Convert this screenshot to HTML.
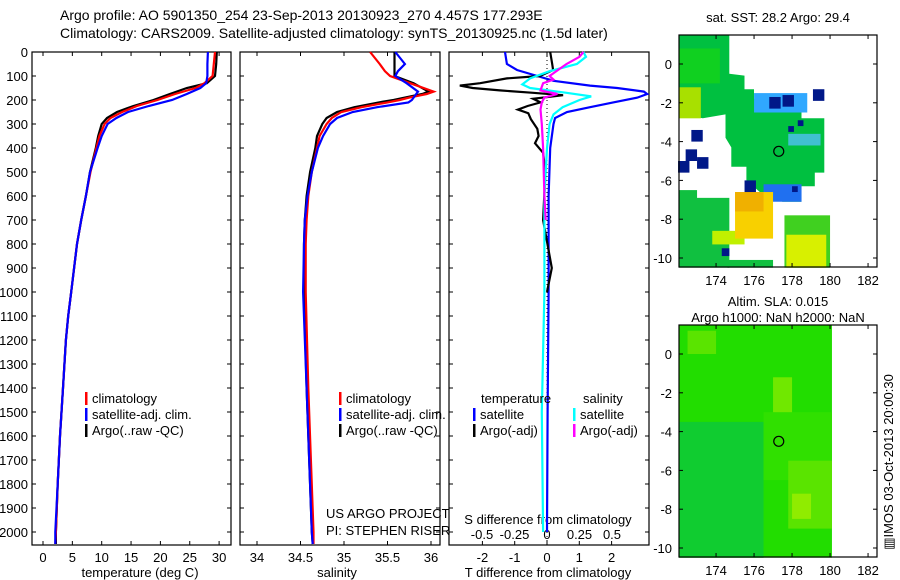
<!DOCTYPE html>
<html><head><meta charset="utf-8"><style>
body{margin:0;background:#fff;}
svg{display:block;font-family:"Liberation Sans",sans-serif;}
text{font-size:13px;fill:#000;}
</style></head><body>
<svg id="c" width="900" height="580" viewBox="0 0 900 580">
<text x="60" y="20" style="font-size:14px">Argo profile: AO 5901350_254 23-Sep-2013 20130923_270 4.457S 177.293E</text>
<text x="60" y="38" style="font-size:14px">Climatology: CARS2009. Satellite-adjusted climatology: synTS_20130925.nc (1.5d later)</text>
</svg>
<script>
// ---- data ----
const tDepth=[0,50,100,130,150,175,200,225,250,275,300,350,400,500,600,700,800,900,1000,1100,1200,1400,1600,1800,2000,2050];
const tArgo=[29.6,29.5,29.3,27.9,24.5,21.6,18.8,15.4,12.6,10.9,10.0,9.4,9.0,8.0,7.3,6.5,5.8,5.3,4.8,4.3,3.9,3.4,2.9,2.5,2.2,2.2];
const tClim=[29.3,29.1,28.9,27.5,26.0,22.5,19.5,16.0,13.5,11.5,10.5,9.6,9.1,8.1,7.3,6.5,5.8,5.3,4.8,4.3,3.9,3.4,2.9,2.5,2.2,2.1];
const tSat=[28.1,28.0,28.0,27.8,26.8,24.5,22.0,18.0,14.5,12.5,11.0,10.0,9.3,8.0,7.3,6.5,5.8,5.3,4.8,4.3,3.9,3.4,2.9,2.5,2.1,2.1];
const sDepth=[0,50,80,100,130,165,175,190,200,210,230,250,275,300,350,400,500,600,700,800,1000,1400,1700,2000,2050];
const sArgo=[35.58,35.58,35.58,35.58,35.8,35.97,35.9,35.7,35.57,35.4,35.12,34.92,34.8,34.75,34.69,34.67,34.61,34.57,34.55,34.54,34.54,34.57,34.6,34.63,34.64];
const sClim=[35.3,35.41,35.47,35.53,35.76,36.03,35.95,35.75,35.64,35.5,35.2,34.97,34.86,34.8,34.72,34.69,34.63,34.59,34.57,34.56,34.56,34.59,34.62,34.65,34.65];
const sSat=[35.59,35.7,35.62,35.59,35.72,35.85,35.83,35.8,35.78,35.74,35.38,35.1,34.92,34.84,34.76,34.7,34.63,34.58,34.55,34.54,34.53,34.57,34.6,34.63,34.64];
const dtDepth=[0,50,75,100,120,140,150,165,175,190,210,230,250,275,300,400,600,1000,1500,2000];
const dtSat=[-1.3,-1.24,-0.93,-0.3,0.2,1.33,2.17,3.0,3.1,2.8,2.05,1.33,0.62,0.25,0.2,0.1,0.05,0.05,0.02,0.0];
const dtaDepth=[0,50,75,100,110,130,140,150,160,170,180,195,210,225,240,255,280,320,350,380,420,500,700,900,1000];
const dtArgo=[0.1,0.16,0.19,-0.22,-1.24,-2.07,-2.7,-2.3,-1.46,-0.43,0.5,-0.43,-0.2,-0.6,-0.9,-0.58,-0.5,-0.3,-0.26,-0.37,-0.12,-0.05,-0.12,0.15,0.0];
const dsDepth=[0,20,50,80,110,135,150,170,185,200,230,260,300,400,600,1000,1500,2000];
const dsSat=[0.28,0.3,0.23,0.02,-0.13,-0.19,-0.13,0.15,0.34,0.25,0.12,0.05,0.02,0.0,-0.02,-0.02,-0.04,-0.03];
const dsaDepth=[0,20,50,75,100,115,130,160,175,190,210,240,300,400,600,700];
const dsArgo=[0.28,0.25,0.15,0.085,0.02,0.05,-0.03,-0.05,0.08,-0.02,-0.04,-0.05,-0.04,-0.03,-0.02,-0.01];
const depthTicks=[0,100,200,300,400,500,600,700,800,900,1000,1100,1200,1300,1400,1500,1600,1700,1800,1900,2000];
const tTicks=[0,5,10,15,20,25,30];
const sTicks=[34,34.5,35,35.5,36];
const dtTicks=[-2,-1,0,1,2];
const dsTicks=[-0.5,-0.25,0,0.25,0.5];
const dsTickLabels=["-0.5","-0.25","0","0.25","0.5"];
const lonTicks=[174,176,178,180,182];
const latTicks=[0,-2,-4,-6,-8,-10];

const NS="http://www.w3.org/2000/svg";
const svg=document.getElementById('c');
function el(tag,attrs,parent){const e=document.createElementNS(NS,tag);for(const k in attrs)e.setAttribute(k,attrs[k]);(parent||svg).appendChild(e);return e;}
function txt(x,y,s,anchor,parent,size){const t=el('text',{x:x,y:y,'text-anchor':anchor||'start'},parent);if(size)t.style.fontSize=size+'px';t.textContent=s;return t;}
const Y=d=>52+d*0.24;
const PB=545;
const xT=v=>43+v*5.87;
const xS=v=>257+(v-34)*87;
const xDT=v=>547+v*32.3;
const xDS=v=>547+v*130;

function panel(x0,x1,name){
  const g=el('g',{});
  
  
  el('rect',{x:x0,y:52,width:x1-x0,height:PB-52,fill:'#fff',stroke:'#000','stroke-width':1.2},g);
  depthTicks.forEach(d=>{el('line',{x1:x0,x2:x0+4,y1:Y(d),y2:Y(d),stroke:'#000'},g);el('line',{x1:x1-4,x2:x1,y1:Y(d),y2:Y(d),stroke:'#000'},g);});
  return g;
}
function line(g,xs,ds,fx,color,name){
  const p=el('polyline',{points:xs.map((v,i)=>fx(v).toFixed(1)+','+Y(ds[i]).toFixed(1)).join(' '),fill:'none',stroke:color,'stroke-width':2.2},g);
  
  
}
const ya=el('g',{});


depthTicks.forEach(d=>txt(28,Y(d)+5,String(d),'end',ya));

const g1=panel(32,231,'temperature-panel');
tTicks.forEach(v=>{el('line',{x1:xT(v),x2:xT(v),y1:PB,y2:PB-4,stroke:'#000'},g1);el('line',{x1:xT(v),x2:xT(v),y1:52,y2:56,stroke:'#000'},g1);txt(xT(v),562,String(v),'middle',g1);});
txt(140,577,'temperature (deg C)','middle',g1);
line(g1,tArgo,tDepth,xT,'#000','temp-argo-line');
line(g1,tClim,tDepth,xT,'#f00','temp-climatology-line');
line(g1,tSat,tDepth,xT,'#00f','temp-satellite-line');

const g2=panel(240,440,'salinity-panel');
sTicks.forEach(v=>{el('line',{x1:xS(v),x2:xS(v),y1:PB,y2:PB-4,stroke:'#000'},g2);el('line',{x1:xS(v),x2:xS(v),y1:52,y2:56,stroke:'#000'},g2);txt(xS(v),562,String(v),'middle',g2);});
txt(337,577,'salinity','middle',g2);
line(g2,sArgo,sDepth,xS,'#000','sal-argo-line');
line(g2,sClim,sDepth,xS,'#f00','sal-climatology-line');
line(g2,sSat,sDepth,xS,'#00f','sal-satellite-line');
txt(326,518,'US ARGO PROJECT','start',g2);
txt(326,535,'PI: STEPHEN RISER','start',g2);

const g3=panel(449,649,'difference-panel');
el('line',{x1:547,x2:547,y1:52,y2:PB,stroke:'#000','stroke-dasharray':'1,3'},g3);
dtTicks.forEach(v=>{el('line',{x1:xDT(v),x2:xDT(v),y1:PB,y2:PB-4,stroke:'#000'},g3);el('line',{x1:xDT(v),x2:xDT(v),y1:52,y2:56,stroke:'#000'},g3);txt(xDT(v),562,String(v),'middle',g3);});
dsTicks.forEach((v,i)=>txt(xDS(v),539,dsTickLabels[i],'middle',g3));
txt(548,524,'S difference from climatology','middle',g3);
txt(548,577,'T difference from climatology','middle',g3);
line(g3,dtSat,dtDepth,xDT,'#00f','tdiff-satellite-line');
line(g3,dtArgo,dtaDepth,xDT,'#000','tdiff-argo-line');
line(g3,dsSat,dsDepth,xDS,'#0ff','sdiff-satellite-line');
line(g3,dsArgo,dsaDepth,xDS,'#f0f','sdiff-argo-line');

function legend(x,y,label,color,name,parent){
  const g=el('g',{},parent);
  
  
  el('rect',{x:x,y:y-11,width:2.5,height:13,fill:color},g);
  txt(x+7,y,label,'start',g);
}
[[g1,85],[g2,339]].forEach(([g,x])=>{
  legend(x,403,'climatology','#f00','legend-climatology',g);
  legend(x,419,'satellite-adj. clim.','#00f','legend-satellite',g);
  legend(x,435,'Argo(..raw -QC)','#000','legend-argo',g);
});
txt(481,403,'temperature','start',g3);
txt(583,403,'salinity','start',g3);
legend(473,419,'satellite','#00f','legend-t-satellite',g3);
legend(473,435,'Argo(-adj)','#000','legend-t-argo',g3);
legend(573,419,'satellite','#0ff','legend-s-satellite',g3);
legend(573,435,'Argo(-adj)','#f0f','legend-s-argo',g3);

const MX=lon=>679+19*(lon-172.05);
function map(top,name){
  const MY=lat=>top+29-19.4*lat;
  const g=el('g',{});
  
  
  return {g,MY};
}
function poly(g,pts,fill,MY){el('polygon',{points:pts.map(p=>MX(p[0]).toFixed(1)+','+MY(p[1]).toFixed(1)).join(' '),fill:fill},g);}
function box(g,l0,l1,a0,a1,fill,MY){el('rect',{x:MX(l0),y:MY(a0),width:MX(l1)-MX(l0),height:MY(a1)-MY(a0),fill:fill},g);}
function frame(g,top,MY){
  el('rect',{x:679,y:top,width:198,height:232,fill:'none',stroke:'#000','stroke-width':1.2},g);
  lonTicks.forEach(v=>{el('line',{x1:MX(v),x2:MX(v),y1:top,y2:top+4,stroke:'#000'},g);el('line',{x1:MX(v),x2:MX(v),y1:top+232,y2:top+228,stroke:'#000'},g);txt(MX(v),top+250,String(v),'middle',g);});
  latTicks.forEach(v=>{el('line',{x1:679,x2:683,y1:MY(v),y2:MY(v),stroke:'#000'},g);el('line',{x1:873,x2:877,y1:MY(v),y2:MY(v),stroke:'#000'},g);txt(672,MY(v)+5,String(v),'end',g);});
  el('circle',{cx:MX(177.3),cy:MY(-4.5),r:5,fill:'none',stroke:'#000','stroke-width':1.2},g);
}
const m1=map(35,'sst-map');
const g4=m1.g,MY1=m1.MY;
poly(g4,[[172.05,1.5],[174.7,1.5],[174.7,-0.5],[175.5,-0.6],[175.5,-1.3],[176,-1.3],[176,-1.8],[178.5,-1.8],[178.5,-2.8],[179.7,-2.8],[179.7,-5.6],[179.2,-5.6],[179.2,-6.3],[178.5,-6.3],[178.5,-7.1],[177.5,-7.1],[176.3,-6.6],[175.6,-6],[175.6,-5.3],[174.8,-5.3],[174.8,-4.3],[174.5,-3.8],[174.5,-2.6],[173.3,-2.8],[172.05,-2.6]],'#00c040',MY1);
box(g4,172.05,173.2,-1.2,-2.8,'#a8e000',MY1);
box(g4,172.05,174.2,0.8,-1.0,'#10d020',MY1);
box(g4,176,178.8,-1.5,-2.5,'#30a8ff',MY1);
box(g4,176.5,178.5,-6.2,-7.1,'#2070f0',MY1);
box(g4,177.8,179.5,-3.6,-4.2,'#40c0d0',MY1);
box(g4,172.05,174.7,-6.9,-10.5,'#10c040',MY1);
box(g4,172.05,173.0,-6.5,-7.0,'#10c040',MY1);
box(g4,173.8,175.5,-8.6,-9.3,'#c0f000',MY1);
box(g4,175.0,177.0,-6.6,-9.0,'#f8d000',MY1);
box(g4,175.0,176.5,-6.6,-7.6,'#f0b000',MY1);
box(g4,177.6,180.0,-7.8,-10.5,'#40d020',MY1);
box(g4,177.7,179.8,-8.8,-10.5,'#d8f000',MY1);
box(g4,174.6,177.0,-10.1,-10.5,'#10c040',MY1);
[[176.8,-1.7,0.6],[177.5,-1.6,0.6],[179.1,-1.3,0.6],[172.7,-3.4,0.6],[172.4,-4.4,0.6],[172.0,-5.0,0.6],[173.0,-4.8,0.6],[175.5,-6.0,0.6],[177.8,-3.2,0.3],[178.3,-2.9,0.3],[174.3,-9.5,0.4],[178,-6.3,0.3]].forEach(b=>box(g4,b[0],b[0]+b[2],b[1],b[1]-b[2],'#001888',MY1));
frame(g4,35,MY1);
txt(778,22,'sat. SST: 28.2 Argo: 29.4','middle',g4);
const m2=map(325,'sla-map');
const g5=m2.g,MY2=m2.MY;
box(g5,172.05,180.1,1.5,-10.5,'#22dd00',MY2);
box(g5,172.05,176.5,-3.5,-10.5,'#10cc30',MY2);
box(g5,176.5,180.1,-3.0,-6.5,'#30e000',MY2);
box(g5,177.0,178.0,-1.2,-3.0,'#70e800',MY2);
box(g5,177.8,180.1,-5.5,-9.0,'#5ae400',MY2);
box(g5,178.0,179.0,-7.2,-8.5,'#90ec00',MY2);
box(g5,172.5,174.0,1.2,0.0,'#5ae400',MY2);
frame(g5,325,MY2);
txt(778,306,'Altim. SLA: 0.015','middle',g5);
txt(778,322,'Argo h1000: NaN h2000: NaN','middle',g5);
const r=txt(0,0,'\u25A5IMOS 03-Oct-2013 20:00:30','middle',g5);
r.setAttribute('transform','translate(893,462) rotate(-90)');
</script>
</body></html>
